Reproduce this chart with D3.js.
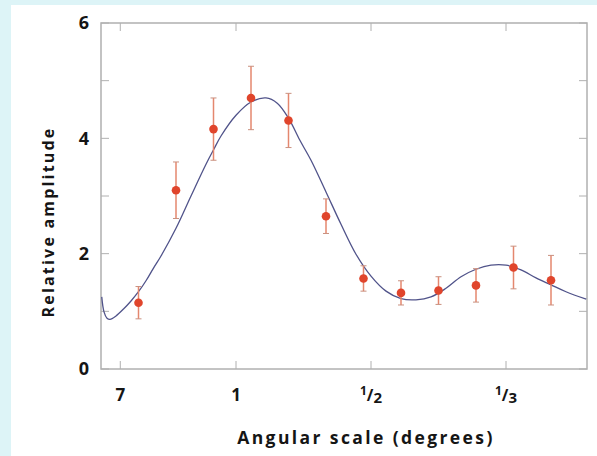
<!DOCTYPE html>
<html>
<head>
<meta charset="utf-8">
<script src="https://cdn.jsdelivr.net/npm/d3@7"></script>
<style>
  html, body { margin: 0; padding: 0; background: #ddf4f7; }
  svg { display: block; }
  text { font-family: "Open Sans", "DejaVu Sans", sans-serif; font-weight: 700; fill: #151515; }
</style>
</head>
<body>
<script>
// Measured band powers: multipole, relative amplitude, 1-sigma error
const multipoles = [50, 100, 150, 200, 250, 300, 350, 400, 450, 500, 550, 600];
const amplitudes = [1.15, 3.10, 4.16, 4.70, 4.31, 2.65, 1.57, 1.32, 1.36, 1.45, 1.76, 1.54];
const errors     = [0.28, 0.49, 0.54, 0.55, 0.47, 0.30, 0.22, 0.21, 0.24, 0.29, 0.37, 0.43];

// Model curve sampled in multipole
const modelL = [1, 4, 8, 12, 20, 30, 40, 50, 60, 70, 80, 100, 120, 140, 150, 160, 180, 200, 220, 235,
                250, 265, 280, 300, 320, 340, 360, 380, 400, 420, 440, 460, 480, 500, 520, 540, 560,
                580, 600, 620, 647];
const modelV = [1.25, 0.99, 0.88, 0.86, 0.92, 1.04, 1.18, 1.34, 1.53, 1.75, 1.96, 2.44, 3.00, 3.55, 3.80,
                4.04, 4.40, 4.63, 4.70, 4.61, 4.35, 3.97, 3.62, 3.07, 2.51, 1.99, 1.61, 1.35, 1.22, 1.20,
                1.25, 1.40, 1.60, 1.73, 1.80, 1.80, 1.72, 1.58, 1.46, 1.34, 1.21];

// Angular-scale ticks (degrees) and y ticks
const angleTicks = [
  { deg: 7, num: "7", den: null },
  { deg: 1, num: "1", den: null },
  { deg: 1 / 2, num: "1", den: "2" },
  { deg: 1 / 3, num: "1", den: "3" }
];
const yTickLabels = [0, 2, 4, 6];
const yTicksAll = [0, 1, 2, 3, 4, 5, 6];

const W = 597, H = 456;
const margin = { left: 101, right: 10, top: 23, bottom: 87 };

const svg = d3.select("body").append("svg").attr("width", W).attr("height", H);

// white panel
svg.append("rect").attr("x", 11).attr("y", 5).attr("width", W - 11).attr("height", H - 5).attr("fill", "#ffffff");

const x = d3.scaleLinear().domain([0, 648]).range([margin.left, W - margin.right]);
const y = d3.scaleLinear().domain([0, 6]).range([H - margin.bottom, margin.top]);
const degToL = d => 180 / d;

const frame = "#b0b0b0";
const g = svg.append("g");

// frame
g.append("rect")
  .attr("x", x(0)).attr("y", y(6))
  .attr("width", x(648) - x(0)).attr("height", y(0) - y(6))
  .attr("fill", "none").attr("stroke", frame).attr("stroke-width", 1.5);

// inward ticks on all four sides
const tl = 8;
g.selectAll(".ytl").data(yTicksAll).join("line")
  .attr("x1", x(0)).attr("x2", x(0) + tl)
  .attr("y1", d => y(d)).attr("y2", d => y(d))
  .attr("stroke", frame).attr("stroke-width", 1);
g.selectAll(".ytr").data(yTicksAll).join("line")
  .attr("x1", x(648)).attr("x2", x(648) - tl)
  .attr("y1", d => y(d)).attr("y2", d => y(d))
  .attr("stroke", frame).attr("stroke-width", 1);
g.selectAll(".xtb").data(angleTicks).join("line")
  .attr("x1", d => x(degToL(d.deg))).attr("x2", d => x(degToL(d.deg)))
  .attr("y1", y(0)).attr("y2", y(0) - tl)
  .attr("stroke", frame).attr("stroke-width", 1);
g.selectAll(".xtt").data(angleTicks).join("line")
  .attr("x1", d => x(degToL(d.deg))).attr("x2", d => x(degToL(d.deg)))
  .attr("y1", y(6)).attr("y2", y(6) + tl)
  .attr("stroke", frame).attr("stroke-width", 1);

// y tick labels
g.selectAll(".ylab").data(yTickLabels).join("text")
  .attr("x", 89).attr("y", d => y(d))
  .attr("dy", "0.36em")
  .attr("text-anchor", "end")
  .attr("font-size", 18)
  .text(d => d);

// x tick labels
const xl = g.selectAll(".xlab").data(angleTicks).join("text")
  .attr("x", d => x(degToL(d.deg)))
  .attr("y", 401)
  .attr("text-anchor", "middle")
  .attr("font-size", 17);
xl.each(function(d) {
  const t = d3.select(this);
  if (!d.den) {
    t.text(d.num);
  } else {
    t.append("tspan").attr("font-size", 12).attr("dy", -6).text(d.num);
    t.append("tspan").attr("font-size", 16).attr("dy", 6).text("/");
    t.append("tspan").attr("font-size", 15).attr("dy", 2).text(d.den);
  }
});

// axis titles
g.append("text")
  .attr("x", 366).attr("y", 444)
  .attr("text-anchor", "middle")
  .attr("font-size", 17.5)
  .attr("letter-spacing", 2.4)
  .text("Angular scale (degrees)");
g.append("text")
  .attr("transform", "translate(54,222) rotate(-90)")
  .attr("text-anchor", "middle")
  .attr("font-size", 16)
  .attr("letter-spacing", 2.2)
  .text("Relative amplitude");

// model curve
const line = d3.line().x(d => x(d[0])).y(d => y(d[1])).curve(d3.curveCatmullRom.alpha(0.5));
g.append("path")
  .datum(modelL.map((l, i) => [l, modelV[i]]))
  .attr("d", line)
  .attr("fill", "none")
  .attr("stroke", "#50538a")
  .attr("stroke-width", 1.3);

// data points with error bars
const pts = multipoles.map((l, i) => ({ l, v: amplitudes[i], e: errors[i] }));
const eb = g.append("g");
eb.selectAll(".bar").data(pts).join("line")
  .attr("x1", d => x(d.l)).attr("x2", d => x(d.l))
  .attr("y1", d => y(d.v + d.e)).attr("y2", d => y(d.v - d.e))
  .attr("stroke", "#e4876e").attr("stroke-width", 1.5);
eb.selectAll(".capT").data(pts).join("line")
  .attr("x1", d => x(d.l) - 3).attr("x2", d => x(d.l) + 3)
  .attr("y1", d => y(d.v + d.e)).attr("y2", d => y(d.v + d.e))
  .attr("stroke", "#c9907f").attr("stroke-width", 1);
eb.selectAll(".capB").data(pts).join("line")
  .attr("x1", d => x(d.l) - 3).attr("x2", d => x(d.l) + 3)
  .attr("y1", d => y(d.v - d.e)).attr("y2", d => y(d.v - d.e))
  .attr("stroke", "#c9907f").attr("stroke-width", 1);
eb.selectAll("circle").data(pts).join("circle")
  .attr("cx", d => x(d.l)).attr("cy", d => y(d.v))
  .attr("r", 4.3)
  .attr("fill", "#e0452c");
</script>
</body>
</html>
